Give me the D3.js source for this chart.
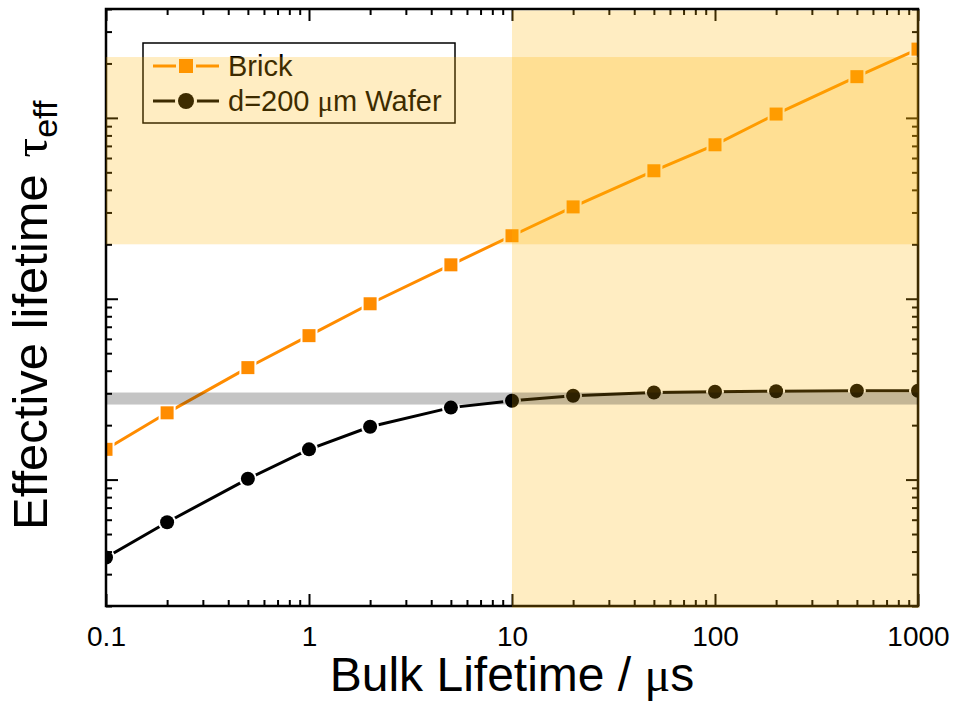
<!DOCTYPE html>
<html>
<head>
<meta charset="utf-8">
<script src="https://cdn.jsdelivr.net/npm/d3@7"></script>
<style>
    body { margin: 0; background: #fff; }
    svg text { font-family: 'Liberation Sans', Arial, sans-serif; fill: #000; }
</style>
</head>
<body>
<div class="fixed"></div>
<script>
// data
var bulk_lifetime   =   [0.1, 0.2, 0.5, 1, 2, 5, 10, 20, 50, 100, 200, 500, 1000];
var brick_tau       =   [0.147, 0.234, 0.416, 0.625, 0.938, 1.54, 2.23, 3.22, 5.10, 7.10, 10.5, 16.9, 24.0];
var wafer_tau       =   [0.0371, 0.0581, 0.101, 0.147, 0.196, 0.250, 0.273, 0.291, 0.303, 0.306, 0.308, 0.310, 0.310];
var x_tick_values   =   [0.1, 1, 10, 100, 1000];
var x_tick_labels   =   ['0.1', '1', '10', '100', '1000'];
var y_major_ticks   =   [0.1, 1, 10];
var bulk_band       =   [10, 1000];
var brick_band      =   [2.0, 21.7];
var wafer_band      =   [0.26, 0.303];
var series_names    =   [['Brick'], ['d=200 ', '\u03bc', 'm Wafer']];

var brick = bulk_lifetime.map(function(d, i){ return { x: d, y: brick_tau[i] }; });
var wafer = bulk_lifetime.map(function(d, i){ return { x: d, y: wafer_tau[i] }; });

//set the dimensions and margins of the graph
var chart_width     =   955;
var chart_height    =   701;
var margin          =   { top: 9, right: 37, bottom: 95, left: 106 };

var svg = d3.select(".fixed")
    .append("svg")
    .attr("width", chart_width)
    .attr("height", chart_height)

// Create Scales
var x_scale = d3.scaleLog()
    .domain([0.1, 1000])
    .range([margin.left, chart_width - margin.right])

var y_scale = d3.scaleLog()
    .domain([0.02, 40])
    .range([chart_height - margin.bottom, margin.top])

var x_minor = x_scale.ticks().filter(function(d){ return x_tick_values.indexOf(d) < 0; })
var y_minor = y_scale.ticks().filter(function(d){ return y_major_ticks.indexOf(d) < 0; })

// Clip Paths
svg.append('clipPath')
    .attr('id', 'plot-area-clip-path')
    .append('rect')
    .attr('x', margin.left)
    .attr('y', margin.top)
    .attr('width', x_scale.range()[1] - margin.left)
    .attr('height', y_scale.range()[0] - margin.top)

// Lines + markers
var line = d3.line()
    .x(function(d){ return x_scale(d.x); })
    .y(function(d){ return y_scale(d.y); })

var plot = svg.append('g')
    .attr('id', 'plot-area')
    .attr('clip-path', 'url(#plot-area-clip-path)')

plot.append('path')
    .datum(brick)
    .attr('d', line)
    .attr('fill', 'none')
    .attr('stroke', '#ff8c00')
    .attr('stroke-width', 3)

plot.append('path')
    .datum(wafer)
    .attr('d', line)
    .attr('fill', 'none')
    .attr('stroke', '#000')
    .attr('stroke-width', 3)

plot.selectAll('rect.brick')
    .data(brick)
    .enter()
    .append('rect')
    .attr('class', 'brick')
    .attr('x', function(d){ return x_scale(d.x) - 6.5; })
    .attr('y', function(d){ return y_scale(d.y) - 6.5; })
    .attr('width', 13)
    .attr('height', 13)
    .attr('fill', '#ff8c00')
    .attr('stroke', '#fff')
    .attr('stroke-width', 4)
    .attr('paint-order', 'stroke')

plot.selectAll('circle.wafer')
    .data(wafer)
    .enter()
    .append('circle')
    .attr('class', 'wafer')
    .attr('cx', function(d){ return x_scale(d.x); })
    .attr('cy', function(d){ return y_scale(d.y); })
    .attr('r', 7)
    .attr('fill', '#000')
    .attr('stroke', '#fff')
    .attr('stroke-width', 4)
    .attr('paint-order', 'stroke')

// Axes (ticks point inward on all four sides)
var bottom = chart_height - margin.bottom;
var right = chart_width - margin.right;

function style_axis(g){
    g.select('.domain').remove();
    g.selectAll('.tick line').attr('stroke', '#000').attr('stroke-width', 2);
}

svg.append('g')
    .attr('transform', 'translate(0,' + bottom + ')')
    .call(d3.axisBottom(x_scale).tickValues(x_tick_values)
        .tickFormat(function(d, i){ return x_tick_labels[i]; })
        .tickSize(-12).tickPadding(20))
    .call(style_axis)
    .call(g => g.selectAll('text')
        .style('font-size', '28px')
        .style('font-family', "'Liberation Sans', Arial, sans-serif")
        .attr('fill', '#000'))

svg.append('g')
    .attr('transform', 'translate(0,' + bottom + ')')
    .call(d3.axisBottom(x_scale).tickValues(x_minor).tickFormat('').tickSize(-6))
    .call(style_axis)

svg.append('g')
    .attr('transform', 'translate(0,' + margin.top + ')')
    .call(d3.axisTop(x_scale).tickValues(x_tick_values).tickFormat('').tickSize(-12))
    .call(style_axis)

svg.append('g')
    .attr('transform', 'translate(0,' + margin.top + ')')
    .call(d3.axisTop(x_scale).tickValues(x_minor).tickFormat('').tickSize(-6))
    .call(style_axis)

svg.append('g')
    .attr('transform', 'translate(' + margin.left + ',0)')
    .call(d3.axisLeft(y_scale).tickValues(y_major_ticks).tickFormat('').tickSize(-12))
    .call(style_axis)

svg.append('g')
    .attr('transform', 'translate(' + margin.left + ',0)')
    .call(d3.axisLeft(y_scale).tickValues(y_minor).tickFormat('').tickSize(-6))
    .call(style_axis)

svg.append('g')
    .attr('transform', 'translate(' + right + ',0)')
    .call(d3.axisRight(y_scale).tickValues(y_major_ticks).tickFormat('').tickSize(-12))
    .call(style_axis)

svg.append('g')
    .attr('transform', 'translate(' + right + ',0)')
    .call(d3.axisRight(y_scale).tickValues(y_minor).tickFormat('').tickSize(-6))
    .call(style_axis)

// frame
svg.append('rect')
    .attr('x', margin.left)
    .attr('y', margin.top)
    .attr('width', right - margin.left)
    .attr('height', bottom - margin.top)
    .attr('fill', 'none')
    .attr('stroke', '#000')
    .attr('stroke-width', 2.5)

// axis labels
var xlab = svg.append('text')
    .attr('x', (margin.left + right) / 2)
    .attr('y', 691)
    .style('text-anchor', 'middle')
    .style('font-size', '48px')
xlab.append('tspan').text('Bulk Lifetime / ')
xlab.append('tspan').style('font-family', "'Liberation Serif', serif").text('\u03bc')
xlab.append('tspan').text('s')

var ylab = svg.append('text')
    .attr('transform', 'translate(47,530) rotate(-90)')
    .style('text-anchor', 'start')
    .style('font-size', '49px')
ylab.append('tspan').text('Effective lifetime ')
ylab.append('tspan').attr('dx', 3).style('font-family', "'Liberation Serif', serif").text('\u03c4')
ylab.append('tspan').attr('dy', 10).style('font-size', '34px').text('eff')

// Legend
var legend = svg.append('g')

legend.append('rect')
    .attr('x', 143)
    .attr('y', 43)
    .attr('width', 312)
    .attr('height', 80)
    .attr('fill', '#fff')
    .attr('stroke', '#000')
    .attr('stroke-width', 1.5)

var rows = [
    { name: series_names[0], color: '#ff8c00', shape: 'square', cy: 66 },
    { name: series_names[1], color: '#000', shape: 'circle', cy: 101 }
]

rows.forEach(function(r){
    legend.append('line')
        .attr('x1', 153).attr('x2', 219)
        .attr('y1', r.cy).attr('y2', r.cy)
        .attr('stroke', r.color)
        .attr('stroke-width', 3)
    if (r.shape == 'square') {
        legend.append('rect')
            .attr('x', 186 - 7).attr('y', r.cy - 7)
            .attr('width', 14).attr('height', 14)
            .attr('fill', r.color)
            .attr('stroke', '#fff').attr('stroke-width', 6)
            .attr('paint-order', 'stroke')
    } else {
        legend.append('circle')
            .attr('cx', 186).attr('cy', r.cy).attr('r', 8)
            .attr('fill', r.color)
            .attr('stroke', '#fff').attr('stroke-width', 6)
            .attr('paint-order', 'stroke')
    }
    var t = legend.append('text')
        .attr('x', 228)
        .attr('y', r.cy + 10)
        .style('font-size', '29px')
    r.name.forEach(function(part){
        var s = t.append('tspan').text(part)
        if (part == '\u03bc') s.style('font-family', "'Liberation Serif', serif")
    })
})

// shaded bands drawn on top with transparency
svg.append('rect')
    .attr('x', x_scale(bulk_band[0]))
    .attr('y', margin.top + 1.5)
    .attr('width', x_scale(bulk_band[1]) - x_scale(bulk_band[0]) + 1.5)
    .attr('height', bottom - margin.top + 0.5)
    .attr('fill', 'rgb(255,180,0)')
    .attr('fill-opacity', 0.24)

svg.append('rect')
    .attr('x', margin.left)
    .attr('y', y_scale(brick_band[1]))
    .attr('width', right - margin.left)
    .attr('height', y_scale(brick_band[0]) - y_scale(brick_band[1]))
    .attr('fill', 'rgb(255,180,0)')
    .attr('fill-opacity', 0.24)

svg.append('rect')
    .attr('x', margin.left)
    .attr('y', y_scale(wafer_band[1]))
    .attr('width', right - margin.left)
    .attr('height', y_scale(wafer_band[0]) - y_scale(wafer_band[1]))
    .attr('fill', '#000')
    .attr('fill-opacity', 0.23)
</script>
</body>
</html>
